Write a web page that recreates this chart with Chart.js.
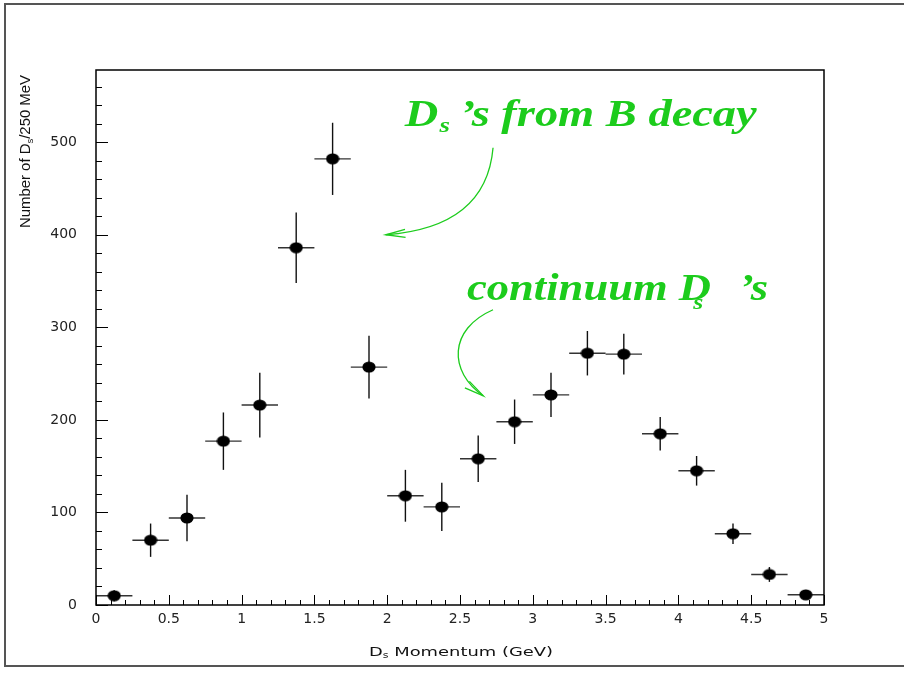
<!DOCTYPE html>
<html>
<head>
<meta charset="utf-8">
<script src="https://cdn.jsdelivr.net/npm/chart.js@4.4.0/dist/chart.umd.min.js"></script>
<style>
  html, body { margin:0; padding:0; background:#fff; }
  canvas { display:block; }
</style>
</head>
<body>
<canvas id="c" width="904" height="673"></canvas>
<script>
// Ds momentum spectrum, 250 MeV bins
const binCenters = [0.125, 0.375, 0.625, 0.875, 1.125, 1.375, 1.625, 1.875, 2.125, 2.375,
                    2.625, 2.875, 3.125, 3.375, 3.625, 3.875, 4.125, 4.375, 4.625, 4.875];
const counts = [10, 70, 94, 177, 216, 386, 482, 257, 118, 106,
                158, 198, 227, 272, 271, 185, 145, 77, 33, 11];
const countErrors = [6, 18, 25, 31, 35, 38, 39, 34, 28, 26,
                     25, 24, 24, 24, 22, 18, 16, 11, 8, 4];
const binHalfWidth = 0.125;

const xTicks = [0, 0.5, 1, 1.5, 2, 2.5, 3, 3.5, 4, 4.5, 5];
const yTicks = [0, 100, 200, 300, 400, 500];
const xMax = 5, yMax = 578;

const green = '#1ccc1c';

// elliptical marker like the original
const marker = document.createElement('canvas');
marker.width = 14; marker.height = 12;
(function () {
  const m = marker.getContext('2d');
  m.fillStyle = '#000';
  m.beginPath();
  m.ellipse(7, 6, 6.6, 5.6, 0, 0, Math.PI * 2);
  m.fill();
})();

// draw a run of text pieces (for subscripts); returns width
function drawRich(ctx, x, y, pieces, dry) {
  let cx = x;
  pieces.forEach(p => {
    ctx.font = p.font;
    const start = cx;
    cx += (p.dx || 0);
    if (!dry) ctx.fillText(p.t, cx, y + (p.dy || 0));
    cx += ctx.measureText(p.t).width;
    if (p.stay) cx = start;
  });
  return cx - x;
}

function drawFitted(ctx, x, y, pieces, width, angle) {
  const w = drawRich(ctx, 0, 0, pieces, true);
  ctx.save();
  ctx.translate(x, y);
  if (angle) ctx.rotate(angle);
  ctx.scale(width / w, 1);
  drawRich(ctx, 0, 0, pieces, false);
  ctx.restore();
}

function arrowHead(ctx, x, y, fromX, fromY) {
  const a = Math.atan2(y - fromY, x - fromX);
  const len = 20, spread = 0.2;
  ctx.beginPath();
  ctx.moveTo(x - len * Math.cos(a - spread), y - len * Math.sin(a - spread));
  ctx.lineTo(x, y);
  ctx.lineTo(x - len * Math.cos(a + spread), y - len * Math.sin(a + spread));
  ctx.stroke();
}

const overlay = {
  id: 'overlay',
  beforeDraw(chart) {
    const ctx = chart.ctx;
    ctx.save();
    ctx.fillStyle = '#fff';
    ctx.fillRect(0, 0, chart.width, chart.height);
    // outer frame (no right side)
    ctx.strokeStyle = '#555';
    ctx.lineWidth = 2;
    ctx.beginPath();
    ctx.moveTo(chart.width, 4);
    ctx.lineTo(5, 4);
    ctx.lineTo(5, 666);
    ctx.lineTo(chart.width, 666);
    ctx.stroke();
    ctx.restore();
  },
  beforeDatasetsDraw(chart) {
    const ctx = chart.ctx, xs = chart.scales.x, ys = chart.scales.y;
    ctx.save();
    ctx.lineWidth = 1.4;
    binCenters.forEach((c, i) => {
      const px = xs.getPixelForValue(c), py = ys.getPixelForValue(counts[i]);
      ctx.strokeStyle = '#333';
      ctx.beginPath();
      ctx.moveTo(xs.getPixelForValue(c - binHalfWidth), py);
      ctx.lineTo(xs.getPixelForValue(c + binHalfWidth), py);
      ctx.stroke();
      ctx.strokeStyle = '#111';
      ctx.beginPath();
      ctx.moveTo(px, ys.getPixelForValue(counts[i] - countErrors[i]));
      ctx.lineTo(px, ys.getPixelForValue(counts[i] + countErrors[i]));
      ctx.stroke();
    });
    ctx.restore();
  },
  afterDraw(chart) {
    const ctx = chart.ctx, xs = chart.scales.x, ys = chart.scales.y;
    const a = chart.chartArea;
    ctx.save();
    ctx.strokeStyle = '#000';
    ctx.lineWidth = 1.5;
    ctx.strokeRect(a.left, a.top, a.right - a.left, a.bottom - a.top);

    // ticks pointing inwards
    ctx.lineWidth = 1;
    ctx.beginPath();
    for (let i = 0; i <= 50; i++) {
      const px = Math.round(xs.getPixelForValue(i / 10)) + 0.5;
      const len = i % 5 === 0 ? 10 : 5;
      ctx.moveTo(px, a.bottom);
      ctx.lineTo(px, a.bottom - len);
    }
    for (let i = 0; i * 20 <= yMax; i++) {
      const py = Math.round(ys.getPixelForValue(i * 20)) + 0.5;
      const len = i % 5 === 0 ? 12 : 6;
      ctx.moveTo(a.left, py);
      ctx.lineTo(a.left + len, py);
    }
    ctx.stroke();

    // axis titles
    ctx.fillStyle = '#111';
    ctx.textBaseline = 'alphabetic';
    drawFitted(ctx, 369, 656, [
      { t: 'D', font: '13px "DejaVu Sans"' },
      { t: 's', font: '8px "DejaVu Sans"', dy: 2 },
      { t: ' Momentum (GeV)', font: '13px "DejaVu Sans"' }
    ], 184);
    drawFitted(ctx, 30, 228, [
      { t: 'Number of D', font: '14px "Liberation Sans Narrow", "Liberation Sans"' },
      { t: 's', font: '9px "Liberation Sans Narrow", "Liberation Sans"', dy: 3 },
      { t: '/250 MeV', font: '14px "Liberation Sans Narrow", "Liberation Sans"' }
    ], 153, -Math.PI / 2);

    // annotations
    ctx.fillStyle = green;
    const F = 'italic bold 38px "Liberation Serif"';
    const Fs = 'italic bold 22px "Liberation Serif"';
    drawFitted(ctx, xs.getPixelForValue(2.12), ys.getPixelForValue(518), [
      { t: 'D', font: F },
      { t: 's', font: Fs, dy: 6, dx: 1 },
      { t: '\u2019s from B decay', font: F, dx: 8 }
    ], 352);
    drawFitted(ctx, xs.getPixelForValue(2.548), ys.getPixelForValue(329), [
      { t: 'continuum D', font: F },
      { t: 's', font: Fs, dy: 9, dx: -15, stay: true },
      { t: '\u2019s', font: F, dx: 24 }
    ], 301);

    ctx.strokeStyle = green;
    ctx.lineWidth = 1.3;
    // arrow to the B-decay peak
    const s1 = [xs.getPixelForValue(2.727), ys.getPixelForValue(494)];
    const c1 = [xs.getPixelForValue(2.68), ys.getPixelForValue(408)];
    const e1 = [xs.getPixelForValue(1.99), ys.getPixelForValue(400)];
    ctx.beginPath();
    ctx.moveTo(s1[0], s1[1]);
    ctx.quadraticCurveTo(c1[0], c1[1], e1[0], e1[1]);
    ctx.stroke();
    arrowHead(ctx, e1[0], e1[1], c1[0], c1[1]);
    // arrow to the continuum bump
    const s2 = [xs.getPixelForValue(2.727), ys.getPixelForValue(319)];
    const p1 = [xs.getPixelForValue(2.42), ys.getPixelForValue(298)];
    const p2 = [xs.getPixelForValue(2.42), ys.getPixelForValue(252)];
    const e2 = [xs.getPixelForValue(2.66), ys.getPixelForValue(226)];
    ctx.beginPath();
    ctx.moveTo(s2[0], s2[1]);
    ctx.bezierCurveTo(p1[0], p1[1], p2[0], p2[1], e2[0], e2[1]);
    ctx.stroke();
    arrowHead(ctx, e2[0], e2[1], p2[0], p2[1]);
    ctx.restore();
  }
};

new Chart(document.getElementById('c'), {
  type: 'scatter',
  data: {
    datasets: [{
      data: binCenters.map((c, i) => ({ x: c, y: counts[i] })),
      pointStyle: marker,
      pointRadius: 6,
      pointHoverRadius: 6
    }]
  },
  options: {
    responsive: false,
    animation: false,
    devicePixelRatio: 1,
    layout: { padding: { top: 70, right: 80, left: 0, bottom: 0 } },
    plugins: { legend: { display: false }, tooltip: { enabled: false } },
    scales: {
      x: {
        type: 'linear', min: 0, max: xMax,
        afterBuildTicks: s => { s.ticks = xTicks.map(v => ({ value: v })); },
        afterFit: s => { s.height = 68; },
        grid: { display: false, drawTicks: false },
        border: { display: false },
        ticks: {
          padding: 6, color: '#222', maxRotation: 0, autoSkip: false,
          font: { family: 'DejaVu Sans', size: 14 },
          callback: v => String(v)
        }
      },
      y: {
        type: 'linear', min: 0, max: yMax,
        afterBuildTicks: s => { s.ticks = yTicks.map(v => ({ value: v })); },
        afterFit: s => { s.width = 96; },
        grid: { display: false, drawTicks: false },
        border: { display: false },
        ticks: {
          padding: 19, color: '#222',
          font: { family: 'DejaVu Sans', size: 14 },
          callback: v => String(v)
        }
      }
    }
  },
  plugins: [overlay]
});
</script>
</body>
</html>
